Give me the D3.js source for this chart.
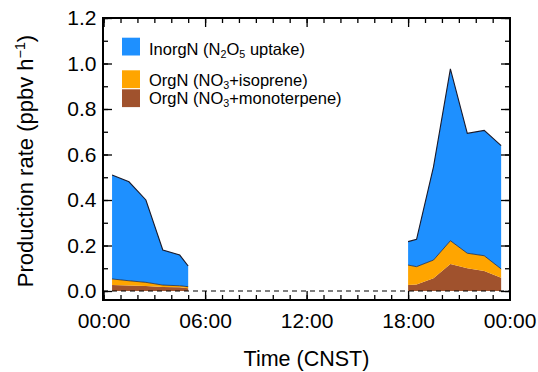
<!DOCTYPE html>
<html>
<head>
<meta charset="utf-8">
<script src="https://cdn.jsdelivr.net/npm/d3@7"></script>
<style>
  body { margin: 0; background: #fff; }
  svg text { font-family: "Liberation Sans", Arial, Helvetica, sans-serif; fill: #000; }
</style>
</head>
<body>
<div id="graph"></div>
<script>
// hours (CNST) of each sample, night-time segments
var hoursMorning = [0.5, 1.5, 2.5, 3.5, 4.5, 5.0];
var hoursEvening = [18.0, 18.5, 19.5, 20.5, 21.5, 22.5, 23.5];

// production rates, ppbv h-1
var monoMorning = [0.026, 0.024, 0.022, 0.018, 0.016, 0.012];
var isoMorning = [0.027, 0.021, 0.016, 0.008, 0.007, 0.007];
var inorgMorning = [0.457, 0.435, 0.362, 0.154, 0.135, 0.091];

var monoEvening = [0.026, 0.029, 0.056, 0.119, 0.100, 0.088, 0.058];
var isoEvening = [0.088, 0.078, 0.080, 0.102, 0.066, 0.067, 0.039];
var inorgEvening = [0.103, 0.120, 0.410, 0.755, 0.527, 0.551, 0.542];

var xTickHours = [0, 6, 12, 18, 24];
var yTickValues = [0, 0.2, 0.4, 0.6, 0.8, 1.0, 1.2];

var keys = ["mono", "iso", "inorg"];
var colors = { inorg: "#1e90ff", iso: "#ffa500", mono: "#a0522d" };
var legendItems = [
    { key: "inorg", parts: [["InorgN (N"], ["2", "sub"], ["O"], ["5", "sub"], [" uptake)"]] },
    { key: "iso", parts: [["OrgN (NO"], ["3", "sub"], ["+isoprene)"]] },
    { key: "mono", parts: [["OrgN (NO"], ["3", "sub"], ["+monoterpene)"]] }
];

var width = 538, height = 372;
var plot = { left: 103, right: 510, top: 18, bottom: 300 };

var x = d3.scaleLinear().domain([0, 24]).range([103.6, 509.6]);
var y = d3.scaleLinear().domain([0, 1.2]).range([291, 18]);

var svg = d3.select("#graph").append("svg")
    .attr("width", width)
    .attr("height", height);

function rows(hours, mono, iso, inorg) {
    return hours.map(function (h, i) {
        return { t: h, mono: mono[i], iso: iso[i], inorg: inorg[i] };
    });
}

var segments = [
    rows(hoursMorning, monoMorning, isoMorning, inorgMorning),
    rows(hoursEvening, monoEvening, isoEvening, inorgEvening)
];

var stack = d3.stack().keys(keys);

var area = d3.area()
    .x(function (d) { return x(d.data.t); })
    .y0(function (d) { return y(d[0]); })
    .y1(function (d) { return y(d[1]); });

var topLine = d3.line()
    .x(function (d) { return x(d.data.t); })
    .y(function (d) { return y(d[1]); });

segments.forEach(function (seg) {
    var layers = stack(seg);
    svg.append("g").selectAll("path")
        .data(layers)
        .enter().append("path")
        .attr("d", area)
        .attr("fill", function (d) { return colors[d.key]; });
    // outlines on top of the orange and blue layers
    svg.append("g").selectAll("path")
        .data(layers.filter(function (d) { return d.key !== "mono"; }))
        .enter().append("path")
        .attr("d", topLine)
        .attr("fill", "none")
        .attr("stroke", "#1a1a2a")
        .attr("stroke-width", function (d) { return d.key === "inorg" ? 1.1 : 0.7; });
});

// zero line
svg.append("line")
    .attr("x1", plot.left).attr("x2", plot.right)
    .attr("y1", y(0)).attr("y2", y(0))
    .attr("stroke", "#000")
    .attr("stroke-width", 1.2)
    .attr("stroke-dasharray", "5,4");

function fmtHour(h) {
    var v = h % 24;
    return (v < 10 ? "0" : "") + v + ":00";
}

function styleAxis(g) {
    g.select(".domain").remove();
    g.selectAll(".tick line").attr("stroke", "#000").attr("stroke-width", 1.3);
}

var minorHours = d3.range(0, 25, 1);
var minorY = d3.range(0, 13).map(function (i) { return i / 10; });

// bottom
svg.append("g")
    .attr("transform", "translate(0," + plot.bottom + ")")
    .call(d3.axisBottom(x).tickValues(minorHours).tickSize(-5).tickFormat(""))
    .call(styleAxis);
svg.append("g")
    .attr("transform", "translate(0," + plot.bottom + ")")
    .call(d3.axisBottom(x).tickValues(xTickHours).tickSize(-9).tickPadding(13).tickFormat(fmtHour))
    .call(styleAxis)
    .selectAll("text")
    .style("font-size", "21px");

// top
svg.append("g")
    .attr("transform", "translate(0," + plot.top + ")")
    .call(d3.axisTop(x).tickValues(minorHours).tickSize(-5).tickFormat(""))
    .call(styleAxis);
svg.append("g")
    .attr("transform", "translate(0," + plot.top + ")")
    .call(d3.axisTop(x).tickValues(xTickHours).tickSize(-9).tickFormat(""))
    .call(styleAxis);

// left
svg.append("g")
    .attr("transform", "translate(" + plot.left + ",0)")
    .call(d3.axisLeft(y).tickValues(minorY).tickSize(-5).tickFormat(""))
    .call(styleAxis);
svg.append("g")
    .attr("transform", "translate(" + plot.left + ",0)")
    .call(d3.axisLeft(y).tickValues(yTickValues).tickSize(-9).tickPadding(6.5).tickFormat(d3.format(".1f")))
    .call(styleAxis)
    .selectAll("text")
    .style("font-size", "21px");

// right
svg.append("g")
    .attr("transform", "translate(" + plot.right + ",0)")
    .call(d3.axisRight(y).tickValues(minorY).tickSize(-5).tickFormat(""))
    .call(styleAxis);
svg.append("g")
    .attr("transform", "translate(" + plot.right + ",0)")
    .call(d3.axisRight(y).tickValues(yTickValues).tickSize(-9).tickFormat(""))
    .call(styleAxis);

// frame
svg.append("rect")
    .attr("x", plot.left).attr("y", plot.top)
    .attr("width", plot.right - plot.left)
    .attr("height", plot.bottom - plot.top)
    .attr("fill", "none")
    .attr("stroke", "#000")
    .attr("stroke-width", 2);

function richText(sel, parts, size) {
    parts.forEach(function (p) {
        var t = sel.append("tspan").text(p[0]);
        if (p[1] === "sub") {
            t.attr("font-size", size * 0.65).attr("baseline-shift", "-25%");
        } else if (p[1] === "sup") {
            t.attr("font-size", size * 0.65).attr("baseline-shift", "55%");
        }
    });
}

// legend
var legendBoxY = { inorg: 37.7, iso: 70.3, mono: 89.3 };
var legendTextY = { inorg: 55, iso: 85.5, mono: 103.5 };
var legend = svg.append("g");
legendItems.forEach(function (item) {
    legend.append("rect")
        .attr("x", 122).attr("y", legendBoxY[item.key])
        .attr("width", 18).attr("height", 17.8)
        .attr("fill", colors[item.key]);
    var t = legend.append("text")
        .attr("x", 149).attr("y", legendTextY[item.key])
        .style("font-size", "16.5px");
    richText(t, item.parts, 16.5);
});

// axis titles
svg.append("text")
    .attr("x", (plot.left + plot.right) / 2)
    .attr("y", 366)
    .attr("text-anchor", "middle")
    .style("font-size", "21.5px")
    .text("Time (CNST)");

var yTitle = svg.append("text")
    .attr("transform", "translate(32.5,161) rotate(-90)")
    .attr("text-anchor", "middle")
    .style("font-size", "22px");
richText(yTitle, [["Production rate (ppbv h"], ["\u22121", "sup"], [")"]], 22);
</script>
</body>
</html>
